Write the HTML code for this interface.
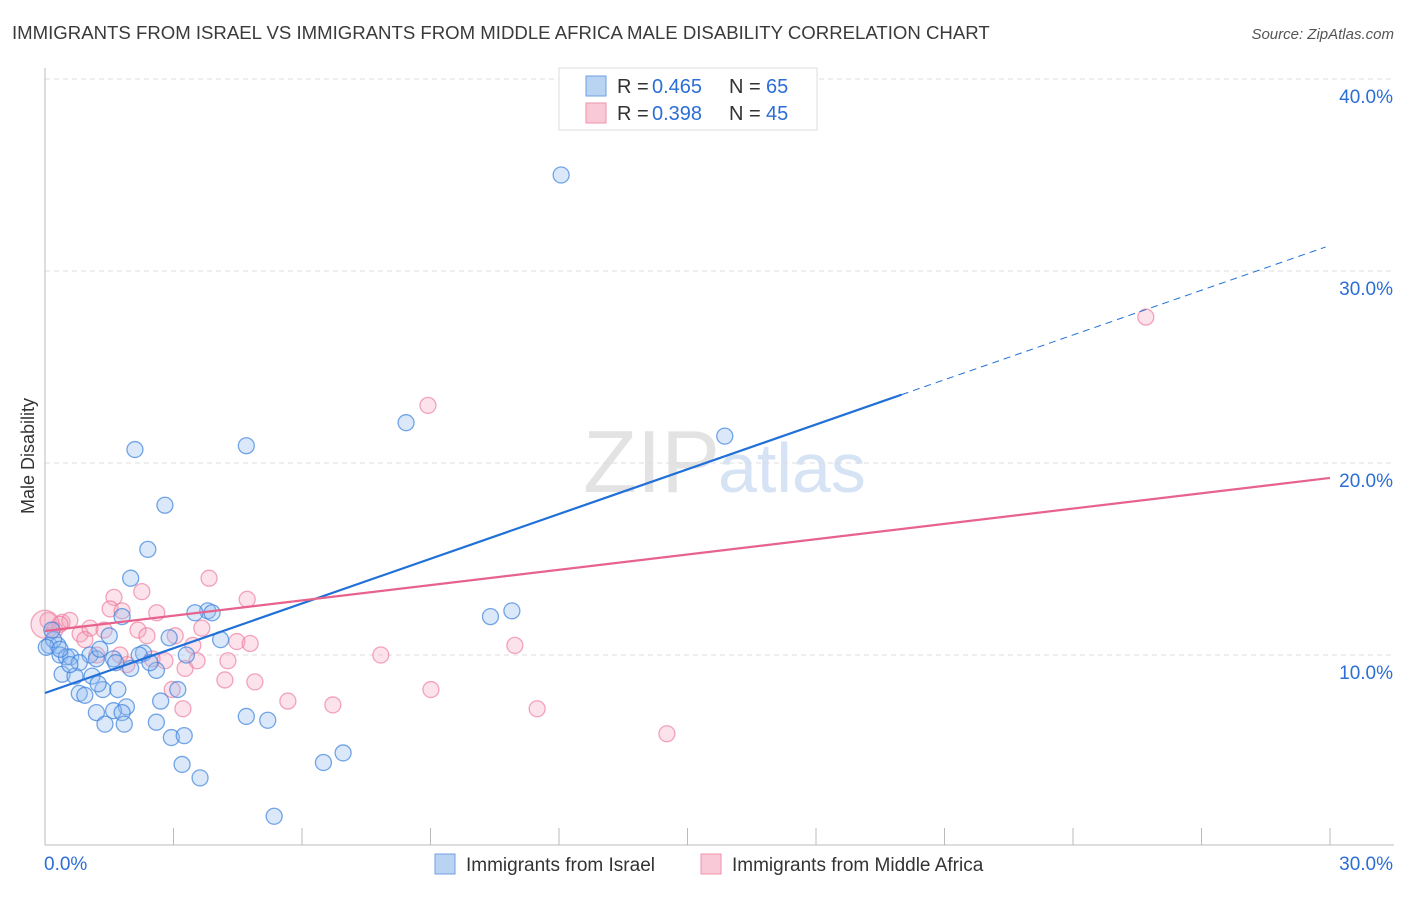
<!DOCTYPE html>
<html><head><meta charset="utf-8"><style>
body{margin:0;background:#fff;font-family:"Liberation Sans",sans-serif;}
svg text{font-family:"Liberation Sans",sans-serif;}
</style></head><body>
<svg id="c" width="1406" height="892">
<text x="12" y="39" font-size="18.6" fill="#3a3a3a">IMMIGRANTS FROM ISRAEL VS IMMIGRANTS FROM MIDDLE AFRICA MALE DISABILITY CORRELATION CHART</text>
<text x="1394" y="39" font-size="15" fill="#555" font-style="italic" text-anchor="end">Source: ZipAtlas.com</text>
<text x="720" y="492" font-size="88" fill="#e3e3e3" text-anchor="end" font-family="Liberation Serif">ZIP</text>
<text x="718" y="492" font-size="70" fill="#d5e3f5">atlas</text>
<text transform="translate(34,456) rotate(-90)" font-size="18" fill="#333" text-anchor="middle">Male Disability</text>
<g id="grid"></g><g id="pts"></g><g id="lines"></g>
<g>
<rect x="559" y="68" width="258" height="62" fill="#fff" stroke="#ddd"/>
<rect x="586" y="76" width="20" height="20" fill="#b9d3f3" stroke="#6f9fe0"/>
<rect x="586" y="103" width="20" height="20" fill="#f9c9d7" stroke="#ee93ae"/>
<text x="617" y="93" font-size="20" fill="#333">R =</text><text x="652" y="93" font-size="20" fill="#2c6ed6">0.465</text>
<text x="729" y="93" font-size="20" fill="#333">N =</text><text x="766" y="93" font-size="20" fill="#2c6ed6">65</text>
<text x="617" y="120" font-size="20" fill="#333">R =</text><text x="652" y="120" font-size="20" fill="#2c6ed6">0.398</text>
<text x="729" y="120" font-size="20" fill="#333">N =</text><text x="766" y="120" font-size="20" fill="#2c6ed6">45</text>
</g>
<g>
<rect x="435" y="854" width="20" height="20" fill="#b9d3f3" stroke="#6f9fe0"/>
<text x="466" y="871" font-size="19" fill="#333">Immigrants from Israel</text>
<rect x="701" y="854" width="20" height="20" fill="#f9c9d7" stroke="#ee93ae"/>
<text x="732" y="871" font-size="19" fill="#333">Immigrants from Middle Africa</text>
</g>
</svg>
<script>
const yTicks=[10,20,30,40];
const xTickLabels=["0.0%","30.0%"];
const blueX=[12.05,8.43,15.87,4.7,2.1,2.8,2.4,2.0,3.8,3.5,3.9,10.4,10.9,1.8,2.9,1.5,4.1,0.1,1.6,2.3,0.3,0.35,0.5,0.6,1.05,1.2,0.8,2.0,3.3,1.65,2.6,0.4,0.7,1.1,0.8,1.35,1.7,3.1,1.2,1.9,2.7,1.6,1.8,2.6,1.4,1.85,4.7,5.2,2.95,3.25,3.2,6.5,6.96,3.62,5.35,0.2,0.58,0.16,2.2,1.28,0.03,0.35,0.93,2.45,1.24];
const blueY=[35.0,22.1,21.4,20.9,20.7,17.8,15.5,14.0,12.3,12.2,12.2,12.0,12.3,12.0,10.9,11.0,10.8,10.5,9.8,10.1,10.5,10.0,9.9,9.9,10.0,9.8,9.6,9.3,10.0,9.6,9.2,9.0,8.9,8.9,8.0,8.2,8.2,8.2,7.0,7.3,7.6,7.1,7.0,6.5,6.4,6.4,6.8,6.6,5.7,5.8,4.3,4.4,4.9,3.6,1.6,10.8,9.5,11.3,10.0,10.3,10.4,10.3,7.9,9.6,8.5];
const pinkX=[25.7,8.94,3.83,2.26,1.61,4.72,1.52,1.8,2.61,0.07,0.4,0.58,0.82,1.05,1.38,2.17,2.38,3.04,3.66,3.45,4.48,4.79,10.97,7.84,1.21,2.5,2.8,3.27,3.55,4.27,1.91,4.2,4.9,2.97,9.01,5.67,6.72,3.22,11.49,14.52,0.23,0.93,1.75,0.35,0.0];
const pinkY=[27.6,23.0,14.0,13.3,13.0,12.9,12.4,12.3,12.2,11.8,11.7,11.8,11.1,11.4,11.3,11.3,11.0,11.0,11.4,10.5,10.7,10.6,10.5,10.0,10.0,9.8,9.7,9.3,9.7,9.7,9.5,8.7,8.6,8.2,8.2,7.6,7.4,7.2,7.2,5.9,11.3,10.8,10.0,11.6,11.6];
const blueLine=[8.02,0.777];
const pinkLine=[11.25,0.2657];
const NS="http://www.w3.org/2000/svg";
const X0=45,X1=1330,Y0=847,PY=19.2;
const sx=v=>X0+(X1-X0)*v/30, sy=v=>Y0-v*PY;
function mk(t,a,p){const e=document.createElementNS(NS,t);for(const k in a)e.setAttribute(k,a[k]);p.appendChild(e);return e;}
const grid=document.getElementById('grid');
yTicks.forEach(t=>{
 const l=mk('line',{x1:X0,x2:1394,y1:sy(t),y2:sy(t),stroke:'#ddd','stroke-dasharray':'5,4'},grid);
 
 
 const tx=mk('text',{x:1393,y:sy(t)+24,'font-size':19,fill:'#2c6ed6','text-anchor':'end'},grid);
 tx.textContent=t.toFixed(1)+'%';
 
 
});
mk('line',{x1:X0,x2:X0,y1:68,y2:845,stroke:'#bbb'},grid);
mk('line',{x1:X0,x2:1394,y1:845,y2:845,stroke:'#bbb'},grid);
for(let i=0;i<=10;i++){mk('line',{x1:sx(i*3),x2:sx(i*3),y1:828,y2:845,stroke:'#bbb'},grid);}
const xl0=mk('text',{x:44,y:870,'font-size':19,fill:'#2c6ed6'},grid);xl0.textContent=xTickLabels[0];


const xl1=mk('text',{x:1393,y:870,'font-size':19,fill:'#2c6ed6','text-anchor':'end'},grid);xl1.textContent=xTickLabels[1];


const pts=document.getElementById('pts');
pinkX.forEach((x,i)=>{const c=mk('circle',{cx:sx(x),cy:sy(pinkY[i]),r:(i==44?14:8),fill:'rgba(244,160,185,0.3)',stroke:'rgba(236,120,155,0.65)','stroke-width':1.3},pts);
 
 });
blueX.forEach((x,i)=>{const c=mk('circle',{cx:sx(x),cy:sy(blueY[i]),r:8,fill:'rgba(150,190,240,0.35)',stroke:'rgba(60,130,220,0.7)','stroke-width':1.3},pts);
 
 });
const lines=document.getElementById('lines');
const b1=mk('line',{x1:sx(0),y1:sy(blueLine[0]),x2:sx(20),y2:sy(blueLine[0]+20*blueLine[1]),stroke:'#2170d8','stroke-width':2.2},lines);


const b2=mk('line',{x1:sx(20),y1:sy(blueLine[0]+20*blueLine[1]),x2:sx(29.9),y2:sy(blueLine[0]+29.9*blueLine[1]),stroke:'#2170d8','stroke-width':1,'stroke-dasharray':'7,5'},lines);


const p1=mk('line',{x1:sx(0),y1:sy(pinkLine[0]),x2:sx(30),y2:sy(pinkLine[0]+30*pinkLine[1]),stroke:'#e8628e','stroke-width':2.2},lines);


</script>
</body></html>
